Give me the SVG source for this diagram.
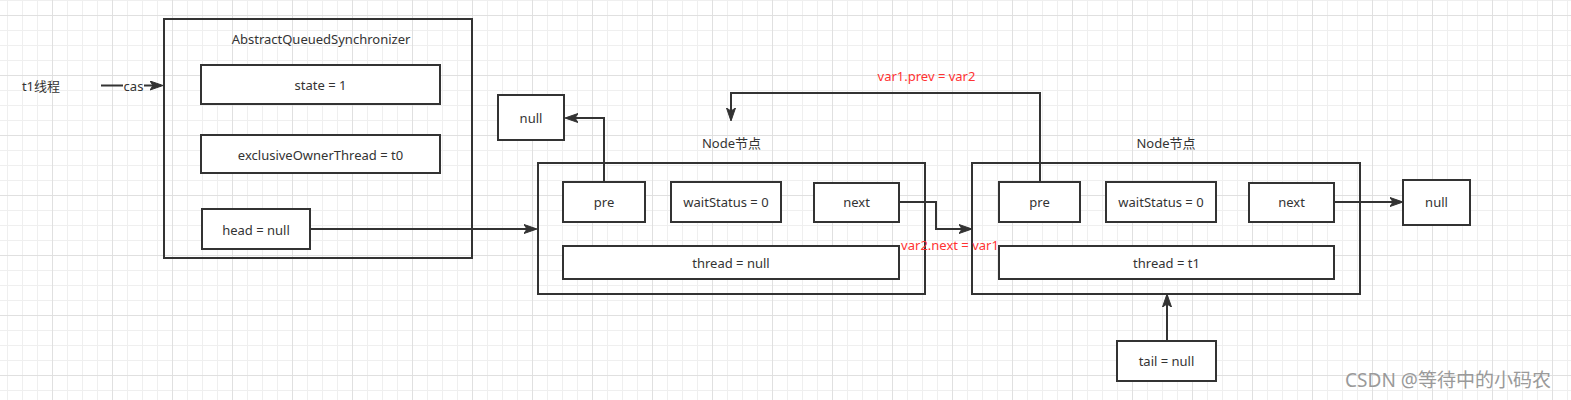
<svg xmlns="http://www.w3.org/2000/svg" width="1571" height="400" viewBox="0 0 1571 400">
<style>
.box{fill:#fff;stroke:#333;stroke-width:2}
.frame{fill:none;stroke:#333;stroke-width:2}
.t{font-family:"Noto Sans","Noto Sans CJK SC",sans-serif;font-size:13px;fill:#333;text-anchor:middle;dominant-baseline:central}
.red{font-family:"Noto Sans","Noto Sans CJK SC",sans-serif;font-size:13px;fill:#ff3333;text-anchor:middle}
.edge{fill:none;stroke:#333;stroke-width:2;marker-end:url(#arr)}
.plain{fill:none;stroke:#333;stroke-width:2}
</style>
<defs>
<pattern id="gmin" x="7" y="0" width="15" height="15" patternUnits="userSpaceOnUse">
<rect x="0" y="0" width="1" height="15" fill="#efefef"/>
<rect x="0" y="0" width="15" height="1" fill="#efefef"/>
</pattern>
<pattern id="gmaj" x="52" y="15" width="60" height="60" patternUnits="userSpaceOnUse">
<rect x="0" y="0" width="1" height="60" fill="#e0e0e0"/>
<rect x="0" y="0" width="60" height="1" fill="#e0e0e0"/>
</pattern>
<marker id="arr" markerUnits="userSpaceOnUse" markerWidth="14" markerHeight="10" viewBox="0 0 14 10" refX="11" refY="5" orient="auto">
<path d="M0,0.5 L13,5 L0,9.5 L3,5 Z" fill="#333" stroke="#333" stroke-width="1"/>
</marker>
</defs>
<rect width="1571" height="400" fill="#fff"/>
<rect width="1571" height="400" fill="url(#gmin)"/>
<rect width="1571" height="400" fill="url(#gmaj)"/>

<g id="t1-thread">
<text class="t" x="41" y="86">t1线程</text>
</g>

<g id="aqs">
<rect class="frame" x="164" y="19" width="308" height="239"/>
<text class="t" x="321" y="38.5">AbstractQueuedSynchronizer</text>
</g>
<g id="aqs-state">
<rect class="box" x="201" y="65" width="239" height="39"/>
<text class="t" x="320.5" y="85">state = 1</text>
</g>
<g id="aqs-owner">
<rect class="box" x="201" y="135" width="239" height="38"/>
<text class="t" x="320.5" y="154.5">exclusiveOwnerThread = t0</text>
</g>
<g id="aqs-head">
<rect class="box" x="202" y="209" width="108" height="40"/>
<text class="t" x="256" y="229.5">head = null</text>
</g>

<g id="null-left">
<rect class="box" x="498" y="95" width="66" height="45"/>
<text class="t" x="531" y="117.5">null</text>
</g>

<g id="node1">
<text class="t" x="731.5" y="143">Node节点</text>
<rect class="frame" x="538" y="163" width="387" height="131"/>
</g>
<g id="node1-pre">
<rect class="box" x="563" y="182" width="82" height="40"/>
<text class="t" x="604" y="202">pre</text>
</g>
<g id="node1-ws">
<rect class="box" x="671" y="182" width="110" height="40"/>
<text class="t" x="726" y="202">waitStatus = 0</text>
</g>
<g id="node1-next">
<rect class="box" x="814" y="183" width="85" height="39"/>
<text class="t" x="856.5" y="202">next</text>
</g>
<g id="node1-thread">
<rect class="box" x="563" y="246" width="336" height="33"/>
<text class="t" x="731" y="262.5">thread = null</text>
</g>

<g id="node2">
<text class="t" x="1166" y="143">Node节点</text>
<rect class="frame" x="972" y="163" width="388" height="131"/>
</g>
<g id="node2-pre">
<rect class="box" x="999" y="182" width="81" height="40"/>
<text class="t" x="1039.5" y="202">pre</text>
</g>
<g id="node2-ws">
<rect class="box" x="1106" y="182" width="110" height="40"/>
<text class="t" x="1161" y="202">waitStatus = 0</text>
</g>
<g id="node2-next">
<rect class="box" x="1249" y="183" width="85" height="39"/>
<text class="t" x="1291.5" y="202">next</text>
</g>
<g id="node2-thread">
<rect class="box" x="999" y="246" width="335" height="33"/>
<text class="t" x="1166.5" y="262.5">thread = t1</text>
</g>

<g id="null-right">
<rect class="box" x="1403" y="180" width="67" height="45"/>
<text class="t" x="1436.5" y="202">null</text>
</g>

<g id="tail">
<rect class="box" x="1117" y="341" width="99" height="40"/>
<text class="t" x="1166.5" y="361">tail = null</text>
</g>

<g id="connectors">
<path class="plain" d="M101,85.5 H123"/>
<path class="edge" d="M144,85.5 H161"/>
<text class="t" x="133.5" y="86">cas</text>
<path class="edge" d="M310,229 H535"/>
<path class="edge" d="M604,182 V118 H567"/>
<path class="edge" d="M1040,182 V93 H731 V119"/>
<text class="red" x="926.5" y="80.5">var1.prev = var2</text>
<path class="edge" d="M899,202 H936 V229 H970"/>
<text class="red" x="950" y="250">var2.next = var1</text>
<path class="edge" d="M1334,202 H1401"/>
<path class="edge" d="M1167,341 V296"/>
</g>

<text x="1448" y="387" font-family="Noto Sans,Noto Sans CJK SC,sans-serif" font-size="19" fill="#9a9a9a" text-anchor="middle">CSDN @等待中的小码农</text>
</svg>
